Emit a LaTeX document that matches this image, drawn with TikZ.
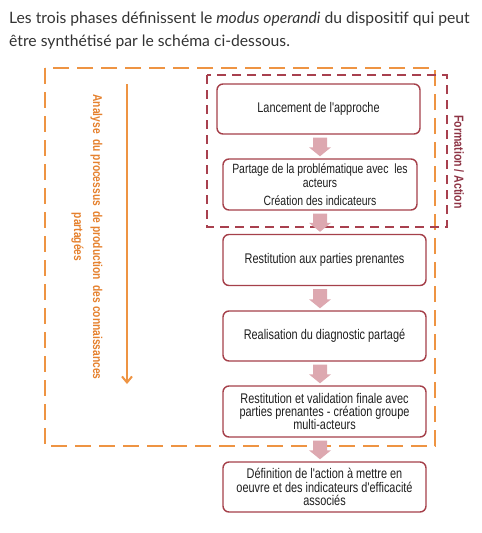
\documentclass[tikz,border=0pt]{standalone}
\usepackage{fontspec}
\setmainfont{Lato}
\newfontfamily\boxfont[FakeStretch=0.78]{Liberation Sans}
\newfontfamily\lblfont[FakeStretch=0.8]{Liberation Sans}
\usetikzlibrary{calc,arrows.meta}
\definecolor{orangeC}{HTML}{EE9443}
\definecolor{orangeT}{HTML}{E5812E}
\definecolor{redC}{HTML}{A8404E}
\definecolor{boxC}{HTML}{A5404A}
\definecolor{pinkC}{HTML}{DDA8B0}
\definecolor{txtC}{HTML}{333333}
\definecolor{titleC}{HTML}{8E3445}
\begin{document}
\begin{tikzpicture}[x=1pt,y=-1pt,
  stepbox/.style={draw=boxC,line width=1.4pt,rounded corners=6pt,fill=white,
    font=\boxfont\fontsize{14}{13.3}\selectfont,text=black!88,align=center,inner sep=1pt},
  flowarrow/.style={fill=pinkC,draw=none}]
\useasboundingbox (0,0) rectangle (482,533);
% heading text
\node[anchor=base west,inner sep=0,text=txtC,font=\fontsize{15.7}{18}\selectfont] (h1) at (9,23)
  {Les trois phases définissent le \textit{modus operandi} du dispositif qui peut};
\node[anchor=base west,inner sep=0,text=txtC,font=\fontsize{15.7}{18}\selectfont] (h2) at (9,46)
  {être synthétisé par le schéma ci-dessous.};
% outer dashed frames
\draw[orangeC,line width=2.2pt,dash pattern=on 16pt off 8pt] (45,68) rectangle (435,446);
\draw[redC,line width=2.2pt,dash pattern=on 9pt off 6pt] (207,75) rectangle (447,227);
% boxes
\node[stepbox,minimum width=203pt,minimum height=50pt] (b1) at (318.5,109) {Lancement de l'approche};
\node[stepbox,minimum width=194pt,minimum height=51pt,font=\boxfont\fontsize{13.4}{14}\selectfont] (b2) at (320,184.5)
  {Partage de la problématique avec\ \ les\\acteurs\\[4pt]Création des indicateurs};
\node[stepbox,minimum width=203pt,minimum height=51pt] (b3) at (324.5,260) {Restitution aux parties prenantes};
\node[stepbox,minimum width=203pt,minimum height=50pt] (b4) at (324.5,336) {Realisation du diagnostic partagé};
\node[stepbox,minimum width=203pt,minimum height=51pt] (b5) at (324.5,411.5)
  {Restitution et validation finale avec\\parties prenantes - création groupe\\multi-acteurs};
\node[stepbox,minimum width=203pt,minimum height=50pt] (b6) at (324.5,487)
  {Définition de l'action à mettre en\\oeuvre et des indicateurs d'efficacité\\associés};
% block arrows
\foreach \a/\b in {b1/b2,b2/b3,b3/b4,b4/b5,b5/b6}{
  \fill[flowarrow] let \p1=(\a.south), \p2=(\b.north) in
    (313pt,\y1-3pt) -- (327pt,\y1-3pt) -- (327pt,\y2+11pt) -- (331pt,\y2+11pt) -- (320pt,\y2+2pt)
    -- (309pt,\y2+11pt) -- (313pt,\y2+11pt) -- cycle;
}
% orange arrow
\coordinate (oa1) at (127,84);
\coordinate (oa2) at (127,384);
\draw[orangeC,line width=2pt,-{Straight Barb[length=6pt,width=10pt]}] (oa1) -- (oa2);
% vertical labels
\node[rotate=-90,text=orangeT,font=\lblfont\bfseries\fontsize{12.8}{19}\selectfont,align=center,inner sep=0] (lab1) at (87,237)
  {Analyse\ \ du processus\ \ de production\ \ des connaissances\\partagées};
\node[rotate=-90,text=titleC,font=\lblfont\bfseries\fontsize{13.2}{13}\selectfont,inner sep=0] (lab2) at (459,162)
  {Formation / Action};
\end{tikzpicture}
\end{document}
